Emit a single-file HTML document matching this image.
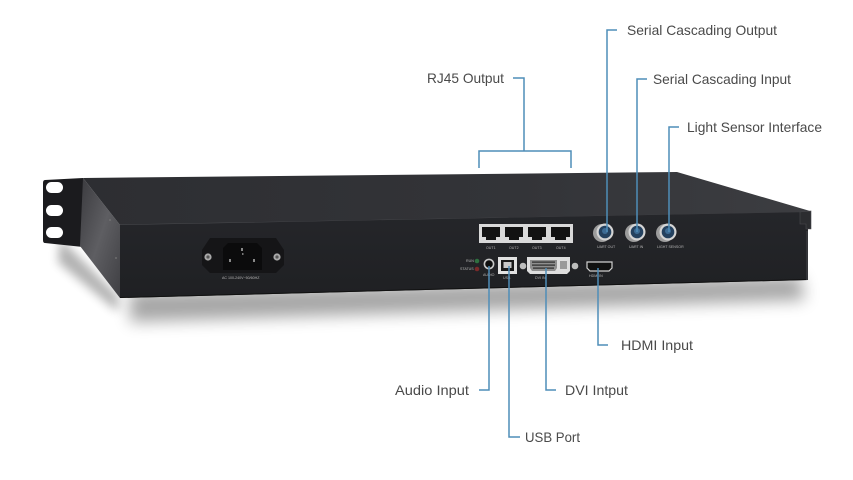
<!DOCTYPE html>
<html>
<head>
<meta charset="utf-8">
<style>
  html, body { margin:0; padding:0; background:#ffffff; }
  body { width:853px; height:480px; overflow:hidden; }
  svg { display:block; }
  .lbl { font-family:"Liberation Sans", Arial, sans-serif; font-size:14px; fill:#4a4a4a; }
  .tiny { font-family:"Liberation Sans", Arial, sans-serif; font-size:3.6px; fill:#b5b5b5; }
  .ln { stroke:#4f8db8; stroke-width:1.5; fill:none; }
</style>
</head>
<body>
<svg width="853" height="480" viewBox="0 0 853 480" xmlns="http://www.w3.org/2000/svg">
  <defs>
    <filter id="blur8" x="-20%" y="-100%" width="140%" height="300%">
      <feGaussianBlur stdDeviation="8"/>
    </filter>
    <filter id="blur5" x="-50%" y="-50%" width="200%" height="200%">
      <feGaussianBlur stdDeviation="5"/>
    </filter>
    <linearGradient id="topg" x1="0" y1="0" x2="1" y2="0">
      <stop offset="0" stop-color="#2d2e32"/>
      <stop offset="0.6" stop-color="#333438"/>
      <stop offset="1" stop-color="#3c3d41"/>
    </linearGradient>
    <linearGradient id="frontg" x1="0" y1="0" x2="0" y2="1">
      <stop offset="0" stop-color="#25262a"/>
      <stop offset="1" stop-color="#1f2023"/>
    </linearGradient>
    <linearGradient id="sideg" x1="0" y1="0" x2="1" y2="1">
      <stop offset="0" stop-color="#3a3a3e"/>
      <stop offset="0.5" stop-color="#5e5e62"/>
      <stop offset="1" stop-color="#3f3f43"/>
    </linearGradient>
  </defs>

  <!-- shadows -->
  <polygon points="130,292 800,276 805,300 130,322" fill="#000" opacity="0.35" filter="url(#blur8)"/>
  <polygon points="60,238 118,296 118,312 58,262" fill="#000" opacity="0.3" filter="url(#blur5)"/>

  <!-- rack ear -->
  <path d="M45,180 L83,178 L83,247 L45,243 Q43,243 43,240 L43,183 Q43,180 45,180 Z" fill="#1b1b1e"/>
  <rect x="46" y="182" width="17" height="11" rx="5.5" fill="#ffffff"/>
  <rect x="46" y="205" width="17" height="11" rx="5.5" fill="#ffffff"/>
  <rect x="46" y="227" width="17" height="11" rx="5.5" fill="#ffffff"/>

  <!-- side panel -->
  <polygon points="83,178 120,225 120,298 80,246" fill="url(#sideg)"/>
  <circle cx="110" cy="220" r="0.9" fill="#777"/>
  <circle cx="116" cy="258" r="0.9" fill="#777"/>

  <!-- top surface -->
  <polygon points="83,178 677,172 810,211 808,213 120,225" fill="url(#topg)"/>
  <line x1="120" y1="225" x2="808" y2="212.5" stroke="#4a4b4f" stroke-width="1"/>

  <!-- front face -->
  <polygon points="120,225 808,212 808,280 120,298" fill="url(#frontg)"/>
  <line x1="120" y1="297.5" x2="808" y2="279.5" stroke="#111" stroke-width="1"/>
  <!-- right lip -->
  <polygon points="800,212 811,211 811,229 806,229 806,224 800,224" fill="#2c2d30" stroke="#4a4a4e" stroke-width="0.6"/>
  <line x1="807" y1="231" x2="807" y2="280" stroke="#333438" stroke-width="2"/>

  <!-- power inlet -->
  <polygon points="210,238 276,238 284,250 284,265 276,273 210,273 202,265 202,250" fill="#151517"/>
  <circle cx="208" cy="257" r="3.6" fill="#a9a9a9"/>
  <circle cx="208" cy="257" r="1.6" fill="#555"/>
  <circle cx="277" cy="257" r="3.6" fill="#a9a9a9"/>
  <circle cx="277" cy="257" r="1.6" fill="#555"/>
  <polygon points="228,243 257,243 262,248 262,270 223,270 223,248" fill="#0b0b0c"/>
  <rect x="241" y="248" width="2" height="3" fill="#888"/>
  <rect x="242" y="253" width="1.5" height="2" fill="#777"/>
  <rect x="229" y="259" width="2" height="3" fill="#888"/>
  <rect x="253" y="259" width="2" height="3" fill="#888"/>
  <text x="222" y="279" class="tiny" fill="#aaa">AC 100-240V~50/60HZ</text>

  <!-- RJ45 block -->
  <rect x="479" y="224" width="94" height="19" fill="#d9d9d9"/>
  <g fill="#121212">
    <path d="M482,227 h18 v10 h-4 v3 h-10 v-3 h-4 z"/>
    <path d="M505,227 h18 v10 h-4 v3 h-10 v-3 h-4 z"/>
    <path d="M528,227 h18 v10 h-4 v3 h-10 v-3 h-4 z"/>
    <path d="M551,227 h19 v10 h-4 v3 h-11 v-3 h-4 z"/>
  </g>
  <text x="486" y="249" class="tiny">OUT1</text>
  <text x="509" y="249" class="tiny">OUT2</text>
  <text x="532" y="249" class="tiny">OUT3</text>
  <text x="556" y="249" class="tiny">OUT4</text>

  <!-- circular connectors -->
  <g>
    <circle cx="602" cy="233" r="9" fill="#9c9c9c"/>
    <circle cx="605" cy="232" r="8.5" fill="#d4d4d4"/>
    <circle cx="605" cy="232" r="6.3" fill="#24415f"/>
    <circle cx="605" cy="231" r="3" fill="#3d6b94"/>
    <circle cx="634" cy="233" r="9" fill="#9c9c9c"/>
    <circle cx="637" cy="232" r="8.5" fill="#d4d4d4"/>
    <circle cx="637" cy="232" r="6.3" fill="#24415f"/>
    <circle cx="637" cy="231" r="3" fill="#3d6b94"/>
    <circle cx="665" cy="233" r="9" fill="#9c9c9c"/>
    <circle cx="668" cy="232" r="8.5" fill="#d4d4d4"/>
    <circle cx="668" cy="232" r="6.3" fill="#24415f"/>
    <circle cx="668" cy="231" r="3" fill="#3d6b94"/>
  </g>
  <text x="597" y="248" class="tiny">UART OUT</text>
  <text x="629" y="248" class="tiny">UART IN</text>
  <text x="657" y="248" class="tiny">LIGHT SENSOR</text>

  <!-- LEDs -->
  <circle cx="477" cy="261" r="2.3" fill="#2f7040"/>
  <circle cx="477" cy="269" r="2.3" fill="#7a2a2a"/>
  <text x="466" y="262" class="tiny">RUN</text>
  <text x="460" y="270" class="tiny">STATUS</text>

  <!-- audio jack -->
  <circle cx="489" cy="264" r="4.6" fill="#0e0e0e" stroke="#c8c8c8" stroke-width="1.6"/>
  <text x="483" y="276" class="tiny">AUDIO</text>

  <!-- USB-B -->
  <rect x="498" y="257" width="19" height="17" fill="#e2e2e2"/>
  <rect x="501" y="260" width="13" height="11" fill="#1a1a1a"/>
  <rect x="503.5" y="262" width="8" height="6" fill="#c9c9c9"/>
  <text x="503" y="279" class="tiny">USB</text>

  <!-- DVI -->
  <circle cx="523" cy="266" r="3.3" fill="#bdbdbd"/>
  <circle cx="575" cy="266" r="3.3" fill="#bdbdbd"/>
  <polygon points="527,257 570,257 570,271 567,274 530,274 527,271" fill="#dedede"/>
  <polygon points="530,260 557,260 557,268 555,271 532,271 530,268" fill="#8f8f8f"/>
  <g fill="#2a2a2a">
    <rect x="532" y="261.5" width="23" height="1.2"/>
    <rect x="532" y="264.5" width="23" height="1.2"/>
    <rect x="533" y="267.5" width="21" height="1.2"/>
  </g>
  <rect x="560" y="261" width="7" height="8" fill="#9a9a9a"/>
  <text x="535" y="279" class="tiny">DVI  IN</text>

  <!-- HDMI -->
  <polygon points="587,262 612,262 612,268 609,271 590,271 587,268" fill="#111" stroke="#cfcfcf" stroke-width="1.2"/>
  <text x="589" y="277" class="tiny">HDMI IN</text>

  <!-- connector lines -->
  <!-- RJ45 -->
  <polyline class="ln" points="513,78 524,78 524,151"/>
  <polyline class="ln" points="479,168 479,151 571,151 571,168"/>
  <!-- serial / light -->
  <polyline class="ln" points="617,30 607,30 607,232"/>
  <polyline class="ln" points="647,79 637,79 637,232"/>
  <polyline class="ln" points="679,127 669,127 669,232"/>
  <!-- bottom -->
  <polyline class="ln" points="489,266 489,390 479,390"/>
  <polyline class="ln" points="509,266 509,437 520,437"/>
  <polyline class="ln" points="546,268 546,390 556,390"/>
  <polyline class="ln" points="598,268 598,345 608,345"/>

  <!-- labels -->
  <text x="427" y="83" class="lbl" textLength="77" lengthAdjust="spacingAndGlyphs">RJ45 Output</text>
  <text x="627" y="35" class="lbl" textLength="150" lengthAdjust="spacingAndGlyphs">Serial Cascading Output</text>
  <text x="653" y="84" class="lbl" textLength="138" lengthAdjust="spacingAndGlyphs">Serial Cascading Input</text>
  <text x="687" y="132" class="lbl" textLength="135" lengthAdjust="spacingAndGlyphs">Light Sensor Interface</text>
  <text x="621" y="350" class="lbl" textLength="72" lengthAdjust="spacingAndGlyphs">HDMI Input</text>
  <text x="395" y="395" class="lbl" textLength="74" lengthAdjust="spacingAndGlyphs">Audio Input</text>
  <text x="565" y="395" class="lbl" textLength="63" lengthAdjust="spacingAndGlyphs">DVI Intput</text>
  <text x="525" y="442" class="lbl" textLength="55" lengthAdjust="spacingAndGlyphs">USB Port</text>
</svg>
</body>
</html>
